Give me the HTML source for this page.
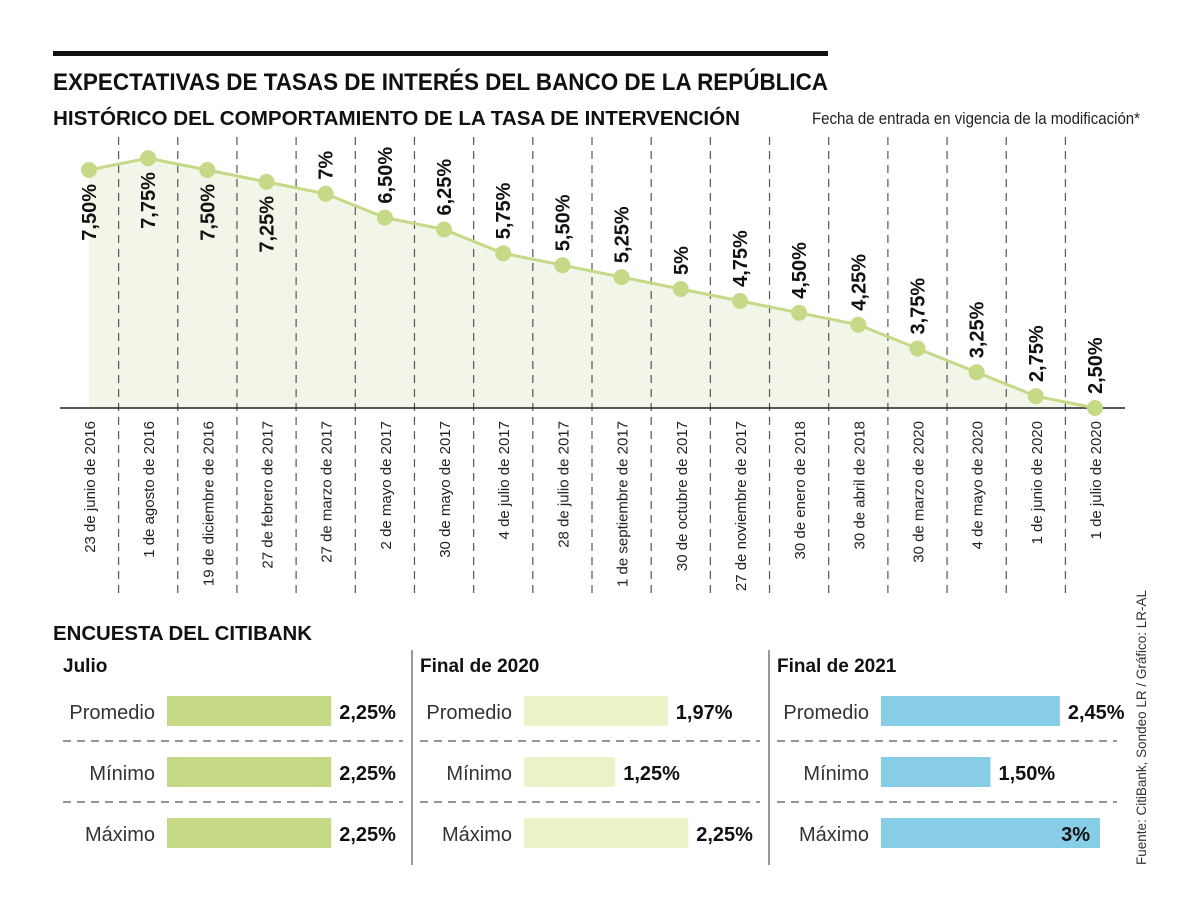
<!DOCTYPE html>
<html><head><meta charset="utf-8">
<style>
html,body{margin:0;padding:0;background:#fff;}
svg{display:block;font-family:"Liberation Sans Narrow","Liberation Sans",sans-serif;}
</style></head>
<body>
<svg id="c" width="1200" height="916" viewBox="0 0 1200 916" xmlns="http://www.w3.org/2000/svg">
<rect x="53" y="51" width="775" height="5" fill="#111"/>
<text x="53" y="90" font-size="24" font-weight="bold" fill="#111" textLength="775" lengthAdjust="spacingAndGlyphs">EXPECTATIVAS DE TASAS DE INTERÉS DEL BANCO DE LA REPÚBLICA</text>
<text x="53" y="125" font-size="20" font-weight="bold" fill="#111" textLength="687" lengthAdjust="spacingAndGlyphs">HISTÓRICO DEL COMPORTAMIENTO DE LA TASA DE INTERVENCIÓN</text>
<text x="1140" y="124" font-size="17" fill="#222" text-anchor="end" textLength="328" lengthAdjust="spacingAndGlyphs">Fecha de entrada en vigencia de la modificación*</text>
<g id="line-chart"></g>
<text x="53" y="640" font-size="20" font-weight="bold" fill="#111" textLength="259" lengthAdjust="spacingAndGlyphs">ENCUESTA DEL CITIBANK</text>
<g id="bars"></g>
<text transform="translate(1146,865) rotate(-90)" font-size="14" fill="#333" textLength="275" lengthAdjust="spacingAndGlyphs">Fuente: CitiBank, Sondeo LR / Gráfico: LR-AL</text>
</svg>
<script>
const dates = ["23 de junio de 2016","1 de agosto de 2016","19 de diciembre de 2016","27 de febrero de 2017","27 de marzo de 2017","2 de mayo de 2017","30 de mayo de 2017","4 de julio de 2017","28 de julio de 2017","1 de septiembre de 2017","30 de octubre de 2017","27 de noviembre de 2017","30 de enero de 2018","30 de abril de 2018","30 de marzo de 2020","4 de mayo de 2020","1 de junio de 2020","1 de julio de 2020"];
const rates = [7.5,7.75,7.5,7.25,7,6.5,6.25,5.75,5.5,5.25,5,4.75,4.5,4.25,3.75,3.25,2.75,2.5];
const rateLabels = ["7,50%","7,75%","7,50%","7,25%","7%","6,50%","6,25%","5,75%","5,50%","5,25%","5%","4,75%","4,50%","4,25%","3,75%","3,25%","2,75%","2,50%"];
const panels = ["Julio","Final de 2020","Final de 2021"];
const rowNames = ["Promedio","Mínimo","Máximo"];
const julio = [2.25,2.25,2.25];
const final2020 = [1.97,1.25,2.25];
const final2021 = [2.45,1.5,3];
const julioLabels = ["2,25%","2,25%","2,25%"];
const final2020Labels = ["1,97%","1,25%","2,25%"];
const final2021Labels = ["2,45%","1,50%","3%"];

const NS="http://www.w3.org/2000/svg";
function mk(tag, attrs, parent){const e=document.createElementNS(NS,tag);for(const k in attrs)e.setAttribute(k,attrs[k]);parent.appendChild(e);return e;}
const X0=89, X1=1095, baseY=408;
const xs = i => X0 + i*(X1-X0)/(rates.length-1);
const ys = v => baseY - (v-2.5)*47.6;
const g=document.getElementById('line-chart');
let d="M"+xs(0)+","+baseY;
rates.forEach((v,i)=>{d+=" L"+xs(i)+","+ys(v);});
d+=" L"+xs(rates.length-1)+","+baseY+" Z";
const area=mk('path',{d:d,fill:"#f2f6e8"},g);


const step=(X1-X0)/(rates.length-1);
for(let i=0;i<rates.length-1;i++){
  const gx=xs(i)+step/2;
  const l=mk('line',{x1:gx,x2:gx,y1:137,y2:598,stroke:"#555","stroke-width":1.2,"stroke-dasharray":"8,6"},g);
  
  
}
const ax=mk('line',{x1:60,x2:1125,y1:baseY,y2:baseY,stroke:"#222","stroke-width":1.5},g);


let pd="";
rates.forEach((v,i)=>{pd+=(i?" L":"M")+xs(i)+","+ys(v);});
const ln=mk('path',{d:pd,fill:"none",stroke:"#c5d986","stroke-width":3},g);


rates.forEach((v,i)=>{
  const c=mk('circle',{cx:xs(i),cy:ys(v),r:8,fill:"#c5d986"},g);
  
  
  const below=i<4;
  const t=mk('text',{"font-size":20,"font-weight":"bold",fill:"#111","text-anchor":below?"end":"start",transform:"translate("+(xs(i)+7)+","+(below?ys(v)+14:ys(v)-14)+") rotate(-90)"},g);
  t.textContent=rateLabels[i];
  
  
  const dt=mk('text',{"font-size":15,fill:"#222","text-anchor":"end",transform:"translate("+(xs(i)+6)+",421) rotate(-90)"},g);
  dt.textContent=dates[i];
  
  
});
const bg=document.getElementById('bars');
const series=[julio,final2020,final2021];
const sLabels=[julioLabels,final2020Labels,final2021Labels];
const colors=["#c5d986","#eef2c8","#86cde5"];
const px=[53,410,767];
const scale=73;
const rowY=[696,757,818];
[412,769].forEach(x=>{const l=mk('line',{x1:x,x2:x,y1:650,y2:865,stroke:"#555","stroke-width":1.2},bg);
  
  });
panels.forEach((p,k)=>{
  const ox=px[k];
  const h=mk('text',{x:ox+10,y:672,"font-size":19,"font-weight":"bold",fill:"#111"},bg);
  h.textContent=p;
  
  
  [741,802].forEach(y=>{const l=mk('line',{x1:ox+10,x2:ox+350,y1:y,y2:y,stroke:"#555","stroke-width":1.2,"stroke-dasharray":"8,6"},bg);
    
    });
  rowNames.forEach((r,j)=>{
    const y=rowY[j];
    const lab=mk('text',{x:ox+102,y:y+23,"font-size":20,fill:"#333","text-anchor":"end"},bg);
    lab.textContent=r;
    
    
    const w=series[k][j]*scale;
    const b=mk('rect',{x:ox+114,y:y,width:w,height:30,fill:colors[k]},bg);
    
    
    const inside=(ox+114+w+68>ox+372);
    const vt=mk('text',{x:inside?ox+114+w-10:ox+114+w+8,y:y+23,"font-size":20,"font-weight":"bold",fill:"#111","text-anchor":inside?"end":"start"},bg);
    vt.textContent=sLabels[k][j];
    
    
  });
});
</script>
</body></html>
